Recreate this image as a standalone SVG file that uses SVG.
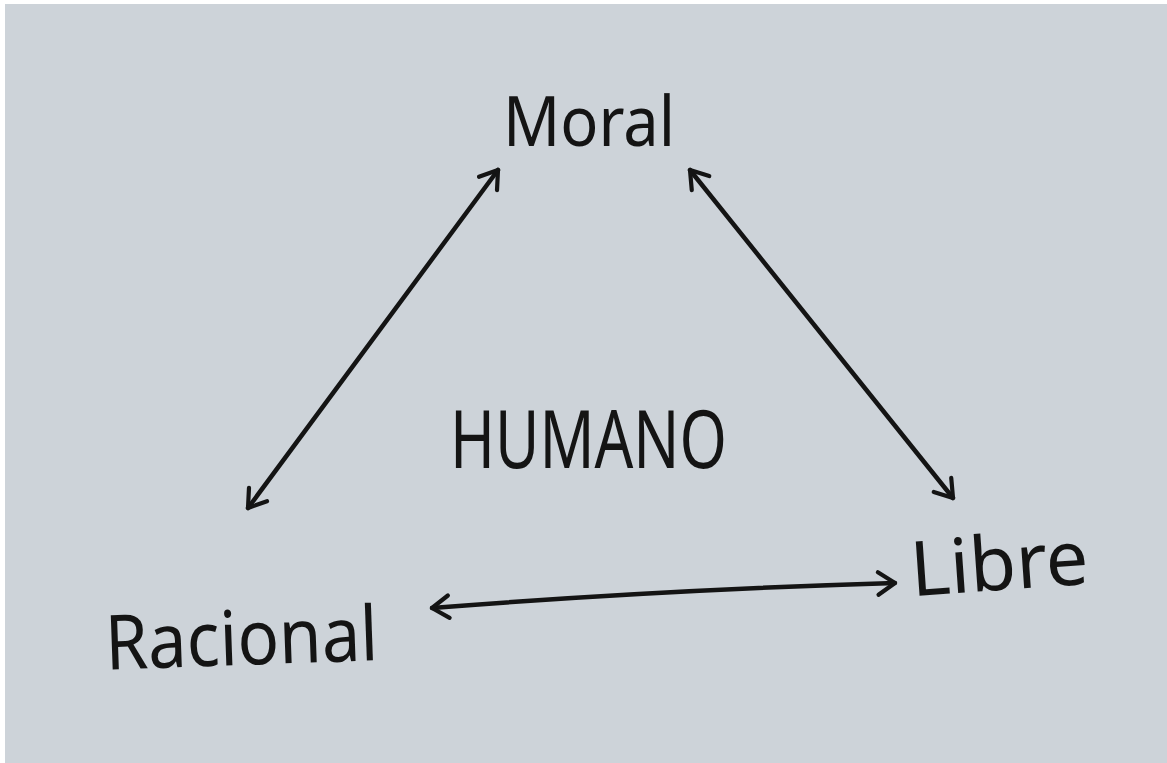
<svg xmlns="http://www.w3.org/2000/svg" width="1167" height="763" viewBox="0 0 1167 763">
<style>
.lbl{font-family:"Noto Sans","Liberation Sans",sans-serif;fill:#141414;}
.con{fill:none;stroke:#141414;stroke-width:4.5;stroke-linecap:round;stroke-linejoin:round;}
</style>
<defs>
<marker id="ah" viewBox="0 0 20 20" refX="16" refY="10" markerWidth="28" markerHeight="28" markerUnits="userSpaceOnUse" orient="auto-start-reverse">
<polyline points="4,2 16,10 4,18" fill="none" stroke="#141414" stroke-width="3" stroke-linecap="round" stroke-linejoin="round"/>
</marker>
</defs>
<rect width="1167" height="763" fill="#ffffff"/>
<rect x="5" y="4" width="1162" height="759" fill="#cdd3d9"/>
<g id="connectors">
<path class="con" d="M498,170 L248,508" marker-start="url(#ah)" marker-end="url(#ah)"/>
<path class="con" d="M690,170 L953,498" marker-start="url(#ah)" marker-end="url(#ah)"/>
<path class="con" d="M432,608 Q660,590 895,583" marker-start="url(#ah)" marker-end="url(#ah)"/>
</g>
<g id="moral"><text class="lbl" x="503" y="146" font-size="70" textLength="172" lengthAdjust="spacingAndGlyphs">Moral</text></g>
<g id="humano"><text class="lbl" x="450" y="468" font-size="80" textLength="277" lengthAdjust="spacingAndGlyphs">HUMANO</text></g>
<g id="racional"><text class="lbl" x="105" y="665" font-size="76" textLength="273" lengthAdjust="spacingAndGlyphs" transform="rotate(-2 240 640)">Racional</text></g>
<g id="libre"><text class="lbl" x="910" y="590" font-size="76" textLength="178" lengthAdjust="spacingAndGlyphs" transform="rotate(-4 1000 560)">Libre</text></g>
</svg>
